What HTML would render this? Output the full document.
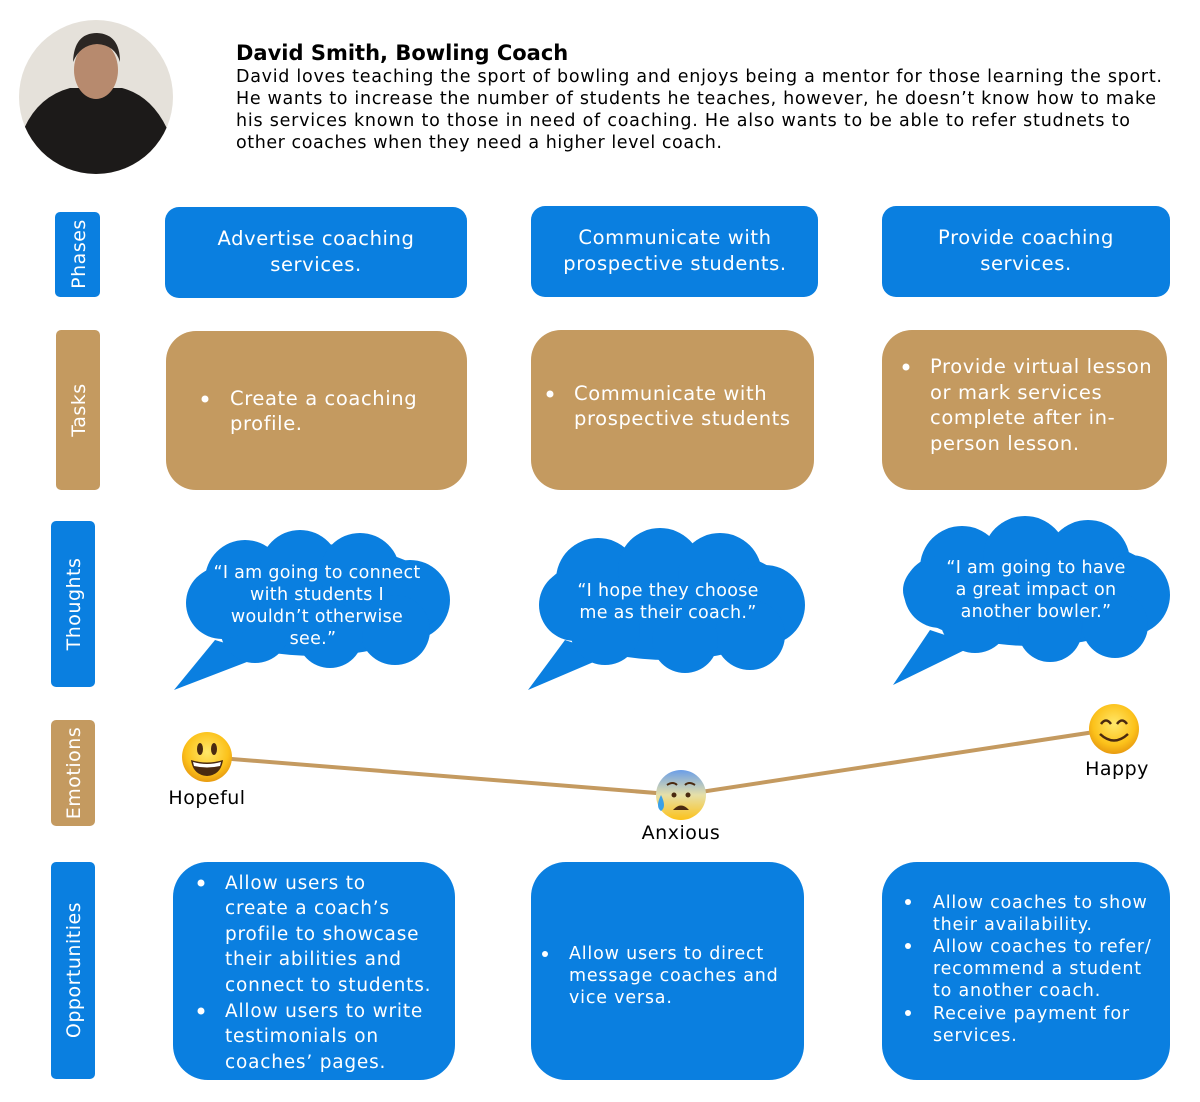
<!DOCTYPE html>
<html><head><meta charset="utf-8"><style>
html,body{margin:0;padding:0;background:#fff;}
svg{display:block;}
text{font-family:"DejaVu Sans","Liberation Sans",sans-serif;}
.w{fill:#fff;font-size:19.5px;letter-spacing:0.6px;}
.wc{fill:#fff;font-size:19.5px;letter-spacing:0.6px;text-anchor:middle;}
.t{fill:#fff;font-size:17.5px;letter-spacing:0.3px;text-anchor:middle;}
.o{fill:#fff;font-size:18.5px;letter-spacing:0.8px;}
.o2{fill:#fff;font-size:17.5px;letter-spacing:0.8px;}
.side{fill:#fff;font-size:19px;letter-spacing:0.5px;text-anchor:middle;}
.d{fill:#000;font-size:17.5px;}
.lab{fill:#000;font-size:19px;text-anchor:middle;letter-spacing:0.5px;}
</style></head><body>
<svg width="1200" height="1102" viewBox="0 0 1200 1102" xmlns="http://www.w3.org/2000/svg">
<defs>
<radialGradient id="face" cx="50%" cy="40%" r="60%"><stop offset="0" stop-color="#ffe86a"/><stop offset="0.7" stop-color="#fcc21b"/><stop offset="1" stop-color="#e89b10"/></radialGradient>
<linearGradient id="fear" x1="0" y1="0" x2="0" y2="1"><stop offset="0" stop-color="#6a9ee8"/><stop offset="0.5" stop-color="#e6e0a8"/><stop offset="1" stop-color="#fcc21b"/></linearGradient>
<clipPath id="pc"><circle cx="96" cy="97" r="77"/></clipPath>
</defs>
<!-- photo -->
<g clip-path="url(#pc)">
<rect x="0" y="0" width="200" height="200" fill="#e5e1da"/>
<path d="M15 160 Q25 100 70 88 L122 88 Q160 98 175 150 L175 180 L15 180Z" fill="#1c1a19"/>
<ellipse cx="96" cy="70" rx="22" ry="29" fill="#b78a6e"/>
<path d="M73 62 Q74 33 97 33 Q120 34 120 62 Q115 45 97 44 Q80 45 73 62Z" fill="#2b2623"/>
</g>
<!-- header -->
<text x="236" y="60" style="font-size:21px;font-weight:bold;fill:#000">David Smith, Bowling Coach</text>
<text class="d" x="236" y="82" textLength="926">David loves teaching the sport of bowling and enjoys being a mentor for those learning the sport.</text>
<text class="d" x="236" y="104" textLength="920">He wants to increase the number of students he teaches, however, he doesn’t know how to make</text>
<text class="d" x="236" y="126" textLength="894">his services known to those in need of coaching.  He also wants to be able to refer studnets to</text>
<text class="d" x="236" y="148" textLength="486">other coaches when they need a higher level coach.</text>
<!-- side labels -->
<rect x="55" y="212" width="45" height="85" rx="5" fill="#0a7fe0"/>
<text class="side" transform="translate(85,254) rotate(-90)">Phases</text>
<rect x="56" y="330" width="44" height="160" rx="5" fill="#c49a60"/>
<text class="side" transform="translate(85,410) rotate(-90)">Tasks</text>
<rect x="51" y="521" width="44" height="166" rx="5" fill="#0a7fe0"/>
<text class="side" transform="translate(80,604) rotate(-90)">Thoughts</text>
<rect x="51" y="720" width="44" height="106" rx="5" fill="#c49a60"/>
<text class="side" transform="translate(80,773) rotate(-90)">Emotions</text>
<rect x="51" y="862" width="44" height="217" rx="5" fill="#0a7fe0"/>
<text class="side" transform="translate(80,970) rotate(-90)">Opportunities</text>
<!-- phases -->
<rect x="165" y="207" width="302" height="91" rx="14" fill="#0a7fe0"/>
<text class="wc" x="316" y="245">Advertise coaching</text><text class="wc" x="316" y="271">services.</text>
<rect x="531" y="206" width="287" height="91" rx="14" fill="#0a7fe0"/>
<text class="wc" x="675" y="244">Communicate with</text><text class="wc" x="675" y="270">prospective students.</text>
<rect x="882" y="206" width="288" height="91" rx="14" fill="#0a7fe0"/>
<text class="wc" x="1026" y="244">Provide coaching</text><text class="wc" x="1026" y="270">services.</text>
<!-- tasks -->
<rect x="166" y="331" width="301" height="159" rx="30" fill="#c49a60"/>
<circle cx="205" cy="399" r="3.5" fill="#fff"/>
<text class="w" x="230" y="405">Create a coaching</text><text class="w" x="230" y="430">profile.</text>
<rect x="531" y="330" width="283" height="160" rx="30" fill="#c49a60"/>
<circle cx="550" cy="394" r="3.5" fill="#fff"/>
<text class="w" x="574" y="400">Communicate with</text><text class="w" x="574" y="425">prospective students</text>
<rect x="882" y="330" width="285" height="160" rx="30" fill="#c49a60"/>
<circle cx="906" cy="367" r="3.5" fill="#fff"/>
<text class="w" x="930" y="373">Provide virtual lesson</text><text class="w" x="930" y="399">or mark services</text>
<text class="w" x="930" y="424">complete after in-</text><text class="w" x="930" y="450">person lesson.</text>
<!-- thoughts clouds -->
<g fill="#0a7fe0">
<path d="M215 640 L174 690 L265 655Z"/>
<ellipse cx="315" cy="600" rx="128" ry="56"/>
<circle cx="245" cy="580" r="40"/><circle cx="300" cy="570" r="40"/><circle cx="360" cy="573" r="40"/>
<circle cx="410" cy="600" r="40"/><circle cx="395" cy="630" r="35"/><circle cx="330" cy="635" r="33"/>
<circle cx="255" cy="628" r="35"/><circle cx="222" cy="603" r="36"/>
<path d="M565 640 L528 690 L610 655Z"/>
<ellipse cx="668" cy="602" rx="128" ry="58"/>
<circle cx="598" cy="580" r="42"/><circle cx="660" cy="570" r="42"/><circle cx="720" cy="575" r="42"/>
<circle cx="765" cy="605" r="40"/><circle cx="750" cy="635" r="35"/><circle cx="685" cy="640" r="33"/>
<circle cx="605" cy="630" r="35"/><circle cx="575" cy="605" r="36"/>
<path d="M930 630 L893 685 L975 645Z"/>
<ellipse cx="1033" cy="590" rx="130" ry="56"/>
<circle cx="962" cy="568" r="42"/><circle cx="1025" cy="558" r="42"/><circle cx="1088" cy="562" r="42"/>
<circle cx="1130" cy="595" r="40"/><circle cx="1115" cy="625" r="33"/><circle cx="1050" cy="630" r="32"/>
<circle cx="975" cy="618" r="35"/><circle cx="940" cy="592" r="36"/>
</g>
<text class="t" x="317" y="578">“I am going to connect</text><text class="t" x="317" y="600">with students I</text>
<text class="t" x="317" y="622">wouldn’t otherwise</text><text class="t" x="313" y="644">see.”</text>
<text class="t" x="668" y="596">“I hope they choose</text><text class="t" x="668" y="618">me as their coach.”</text>
<text class="t" x="1036" y="573">“I am going to have</text><text class="t" x="1036" y="595">a great impact on</text><text class="t" x="1036" y="617">another bowler.”</text>
<!-- emotions -->
<polyline points="207,757 681,795 1114,729" fill="none" stroke="#c49a60" stroke-width="4"/>
<g transform="translate(207,757)">
<circle r="25" fill="url(#face)"/>
<ellipse cx="-7" cy="-8" rx="3" ry="6" fill="#4a2a10"/><ellipse cx="7" cy="-8" rx="3" ry="6" fill="#4a2a10"/>
<path d="M-16 3 Q0 8 16 3 Q14 18 0 19 Q-14 18 -16 3Z" fill="#4a2a10"/>
<path d="M-14 5 Q0 9 14 5 L13 9 Q0 12 -13 9Z" fill="#fff"/>
</g>
<g transform="translate(681,795)">
<circle r="25" fill="url(#fear)"/>
<path d="M-14 -10 Q-8 -14 -4 -10" stroke="#4a2a10" stroke-width="2" fill="none"/>
<path d="M14 -10 Q8 -14 4 -10" stroke="#4a2a10" stroke-width="2" fill="none"/>
<circle cx="-7" cy="0" r="2.5" fill="#4a2a10"/><circle cx="7" cy="0" r="2.5" fill="#4a2a10"/>
<path d="M-8 15 Q0 6 8 15Z" fill="#4a2a10"/>
<path d="M-20 0 Q-26 12 -20 16 Q-14 12 -20 0Z" fill="#3aa0e8"/>
</g>
<g transform="translate(1114,729)">
<circle r="25" fill="url(#face)"/>
<path d="M-13 -5 Q-8 -12 -3 -5" stroke="#4a2a10" stroke-width="2.5" fill="none"/>
<path d="M13 -5 Q8 -12 3 -5" stroke="#4a2a10" stroke-width="2.5" fill="none"/>
<path d="M-14 5 Q0 18 14 5" stroke="#4a2a10" stroke-width="2.5" fill="none"/>
</g>
<text class="lab" x="207" y="804">Hopeful</text>
<text class="lab" x="681" y="839">Anxious</text>
<text class="lab" x="1117" y="775">Happy</text>
<!-- opportunities -->
<rect x="173" y="862" width="282" height="218" rx="35" fill="#0a7fe0"/>
<circle cx="201" cy="883" r="3.5" fill="#fff"/>
<text class="o" x="225" y="889">Allow users to</text><text class="o" x="225" y="914">create a coach’s</text>
<text class="o" x="225" y="940">profile to showcase</text><text class="o" x="225" y="965">their abilities and</text>
<text class="o" x="225" y="991">connect to students.</text>
<circle cx="201" cy="1011" r="3.5" fill="#fff"/>
<text class="o" x="225" y="1017">Allow users to write</text><text class="o" x="225" y="1042">testimonials on</text>
<text class="o" x="225" y="1068">coaches’ pages.</text>
<rect x="531" y="862" width="273" height="218" rx="35" fill="#0a7fe0"/>
<circle cx="545" cy="954" r="3" fill="#fff"/>
<text class="o2" x="569" y="959">Allow users to direct</text><text class="o2" x="569" y="981">message coaches and</text>
<text class="o2" x="569" y="1003">vice versa.</text>
<rect x="882" y="862" width="288" height="218" rx="35" fill="#0a7fe0"/>
<circle cx="908" cy="902" r="3" fill="#fff"/>
<text class="o2" x="933" y="908">Allow coaches to show</text><text class="o2" x="933" y="930">their availability.</text>
<circle cx="908" cy="946" r="3" fill="#fff"/>
<text class="o2" x="933" y="952">Allow coaches to refer/</text><text class="o2" x="933" y="974">recommend a student</text>
<text class="o2" x="933" y="996">to another coach.</text>
<circle cx="908" cy="1013" r="3" fill="#fff"/>
<text class="o2" x="933" y="1019">Receive payment for</text><text class="o2" x="933" y="1041">services.</text>
</svg>
</body></html>
